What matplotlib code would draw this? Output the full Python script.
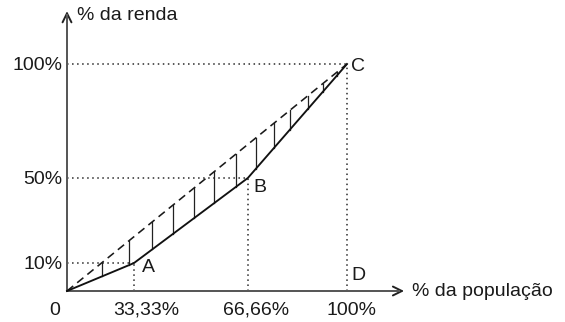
import numpy as np
import matplotlib
matplotlib.use('Agg')
import matplotlib.pyplot as plt

plt.rcParams['font.family'] = ['Liberation Sans', 'DejaVu Sans']

# Lorenz curve points (O, A, B, C) as drawn
popX = [0, 23.9, 64.6, 100]
rendaY = [0, 12.3, 49.8, 100]
pointNames = ['A', 'B', 'C']

# tick labels
xTickPos = [0, 23.9, 64.6, 100]
xTickLab = ['0', '33,33%', '66,66%', '100%']
yTickPos = [12.3, 49.8, 100]
yTickLab = ['10%', '50%', '100%']

# vertical hatch lines between equality line and curve
hatchX = [12.5, 22.1, 30.4, 37.9, 45.4, 52.5, 60.4, 67.5, 73.9, 79.6, 86.1, 91.4, 96.4]

xLabel = '% da população'
yLabel = '% da renda'

W, H = 565, 322
ox, oy = 67, 291      # origin pixel
sx, sy = 2.8, 2.27    # pixels per unit

fig = plt.figure(figsize=(W/100, H/100), dpi=100)
ax = fig.add_axes([0, 0, 1, 1])
ax.set_xlim(-ox/sx, (W-ox)/sx)
ax.set_ylim(-(H-oy)/sy, oy/sy)
ax.axis('off')

txtCol = '#1a1a1a'
fs = 14

# axes with arrows
axCol = '#5a5a5a'
ax.annotate('', xy=(120.4, 0), xytext=(0, 0),
            arrowprops=dict(arrowstyle='->,head_length=0.65,head_width=0.32', color='#222222', lw=1.4,
                            shrinkA=0, shrinkB=0))
ax.plot([0, 119], [0, 0], color=axCol, lw=1.4, solid_capstyle='butt', zorder=3)
ax.annotate('', xy=(0, 123.3), xytext=(0, 0),
            arrowprops=dict(arrowstyle='->,head_length=0.65,head_width=0.32', color='#222222', lw=1.4,
                            shrinkA=0, shrinkB=0))
ax.plot([0, 0], [0, 122], color=axCol, lw=1.4, solid_capstyle='butt', zorder=3)

ax.text(123.3, 0, xLabel, fontsize=fs, color=txtCol, ha='left', va='center')
ax.text(3.6, 121.5, yLabel, fontsize=fs, color=txtCol, ha='left', va='center')

# dotted guides
dotStyle = dict(color='#2a2a2a', lw=1.1, linestyle=(0, (1, 2.3)))
for px, py in zip(popX[1:], rendaY[1:]):
    ax.plot([0, px], [py, py], **dotStyle)
    ax.plot([px, px], [0, py], **dotStyle)

# equality line (dashed)
ax.plot([popX[0], popX[-1]], [rendaY[0], rendaY[-1]], color='#1a1a1a', lw=1.15,
        linestyle=(0, (5.0, 3.2)), zorder=4)

# hatch lines
for hx in hatchX:
    ax.plot([hx, hx], [np.interp(hx, popX, rendaY), hx], color='#222222', lw=0.9, zorder=3)

# Lorenz curve
ax.plot(popX, rendaY, color='#111111', lw=1.35, zorder=5)

# point labels
labOff = [(6, -3), (4, -7), (3, -2)]
for name, px, py, off in zip(pointNames, popX[1:], rendaY[1:], labOff):
    ax.annotate(name, (px, py), xytext=off, textcoords='offset points',
                fontsize=fs, color=txtCol, ha='left', va='center')
ax.annotate('D', (popX[-1], 0), xytext=(3, 11), textcoords='offset points',
            fontsize=fs, color=txtCol, ha='left', va='center')

# tick labels
xOff = [-9, 9, 6, 3]
for pos, lab, off in zip(xTickPos, xTickLab, xOff):
    ax.annotate(lab, (pos, 0), xytext=(off, -14), textcoords='offset points',
                fontsize=fs, color=txtCol, ha='center', va='center')
for pos, lab in zip(yTickPos, yTickLab):
    ax.annotate(lab, (0, pos), xytext=(-3.5, -1.2), textcoords='offset points',
                fontsize=fs, color=txtCol, ha='right', va='center')

fig.savefig('out.png', dpi=100)
